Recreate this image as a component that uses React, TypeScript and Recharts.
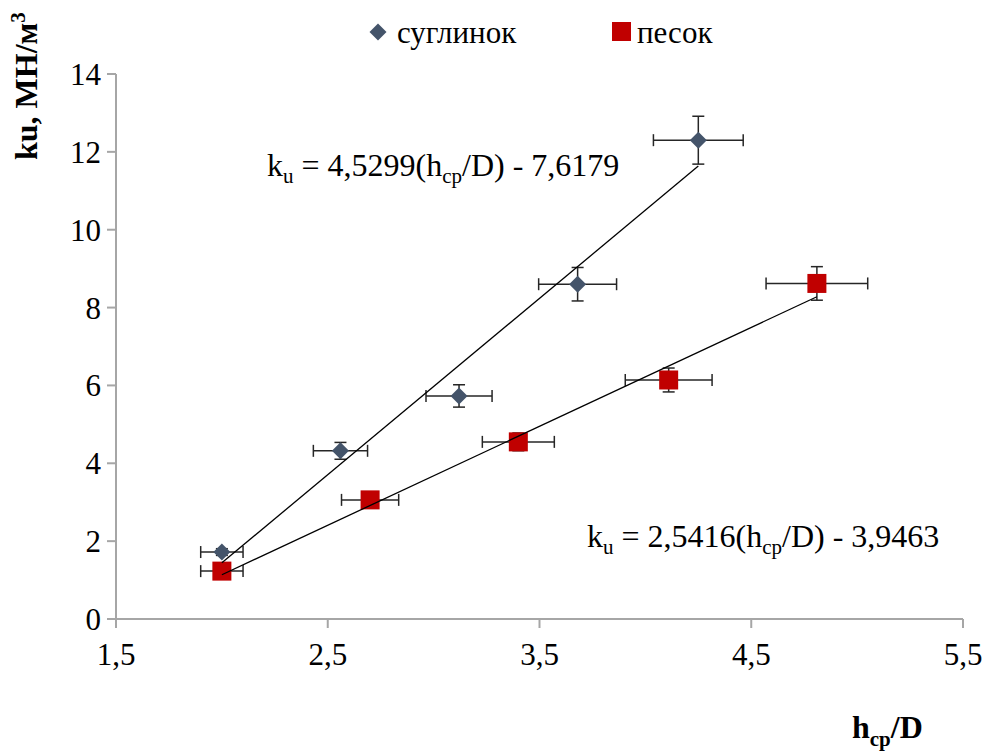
import { ScatterChart, Scatter, XAxis, YAxis, ErrorBar } from "recharts";

// суглинок (loam)
const loamX = [2.0, 2.56, 3.12, 3.68, 4.25];
const loamY = [1.72, 4.32, 5.73, 8.6, 12.3];
const loamXErr = [0.1, 0.128, 0.156, 0.184, 0.212];
const loamYErr = [0.086, 0.216, 0.287, 0.43, 0.615];

// песок (sand)
const sandX = [2.0, 2.7, 3.4, 4.11, 4.81];
const sandY = [1.23, 3.06, 4.55, 6.14, 8.62];
const sandXErr = [0.1, 0.135, 0.17, 0.205, 0.24];
const sandYErr = [0.062, 0.153, 0.228, 0.307, 0.431];

// linear trendlines from the picture
const loamFit = { slope: 4.5299, intercept: -7.6179 };
const sandFit = { slope: 2.5416, intercept: -3.9463 };

const xTicks = [1.5, 2.5, 3.5, 4.5, 5.5];
const yTicks = [0, 2, 4, 6, 8, 10, 12, 14];

const W = 975;
const H = 746;
const FONT = "Liberation Serif";
const LOAM_COLOR = "#44546A";
const SAND_COLOR = "#C00000";
const AXIS_COLOR = "#A6A6A6";

const toPoints = (xs: number[], ys: number[], ex: number[], ey: number[]) =>
  xs.map((x, i) => ({ x, y: ys[i], ex: ex[i], ey: ey[i] }));

const trend = (xs: number[], fit: { slope: number; intercept: number }) => {
  const x0 = Math.min(...xs);
  const x1 = Math.max(...xs);
  return [
    { x: x0, y: fit.slope * x0 + fit.intercept },
    { x: x1, y: fit.slope * x1 + fit.intercept },
  ];
};

const loamData = toPoints(loamX, loamY, loamXErr, loamYErr);
const sandData = toPoints(sandX, sandY, sandXErr, sandYErr);
const loamTrend = trend(loamX, loamFit);
const sandTrend = trend(sandX, sandFit);

const Diamond = (props: any) => {
  const { cx, cy } = props;
  const r = 8.5;
  return (
    <path
      d={`M${cx},${cy - r} L${cx + r},${cy} L${cx},${cy + r} L${cx - r},${cy} Z`}
      fill={LOAM_COLOR}
    />
  );
};

const Square = (props: any) => {
  const { cx, cy } = props;
  const s = 19;
  return <rect x={cx - s / 2} y={cy - s / 2} width={s} height={s} fill={SAND_COLOR} />;
};

const fmt = (v: number) => String(v).replace(".", ",");

function Equation({ x, y, a, b }: { x: number; y: number; a: string; b: string }) {
  return (
    <text x={x} y={y} fontSize={32} fill="#000">
      k
      <tspan fontSize={21} dy={7}>u</tspan>
      <tspan dy={-7}>{` = ${a}(h`}</tspan>
      <tspan fontSize={21} dy={7}>cp</tspan>
      <tspan dy={-7}>{`/D) - ${b}`}</tspan>
    </text>
  );
}

export default function App() {
  return (
    <div style={{ position: "relative", width: W, height: H, fontFamily: FONT }}>
      <ScatterChart
        width={W}
        height={H}
        margin={{ top: 66, right: 20, bottom: 85, left: 52 }}
        style={{ fontFamily: FONT }}
      >
        <XAxis
          type="number"
          dataKey="x"
          domain={[1.5, 5.5]}
          ticks={xTicks}
          tickFormatter={fmt}
          stroke={AXIS_COLOR}
          strokeWidth={2}
          tickSize={9}
          tickMargin={15}
          height={50}
          tick={{ fill: "#000", fontSize: 31, fontFamily: FONT }}
        />
        <YAxis
          type="number"
          dataKey="y"
          domain={[0, 14]}
          ticks={yTicks}
          stroke={AXIS_COLOR}
          strokeWidth={2}
          tickSize={9}
          tickMargin={6}
          width={56}
          tick={{ fill: "#000", fontSize: 31, fontFamily: FONT }}
        />
        <Scatter data={loamData} shape={<Diamond />} isAnimationActive={false}>
          <ErrorBar dataKey="ex" direction="x" width={6} stroke="#262626" strokeWidth={1.5} />
          <ErrorBar dataKey="ey" direction="y" width={6} stroke="#262626" strokeWidth={1.5} />
        </Scatter>
        <Scatter data={sandData} shape={<Square />} isAnimationActive={false}>
          <ErrorBar dataKey="ex" direction="x" width={6} stroke="#262626" strokeWidth={1.5} />
          <ErrorBar dataKey="ey" direction="y" width={6} stroke="#262626" strokeWidth={1.5} />
        </Scatter>
        <Scatter
          data={loamTrend}
          line={{ stroke: "#000", strokeWidth: 1.3 }}
          shape={() => <g />}
          isAnimationActive={false}
        />
        <Scatter
          data={sandTrend}
          line={{ stroke: "#000", strokeWidth: 1.3 }}
          shape={() => <g />}
          isAnimationActive={false}
        />
      </ScatterChart>
      <svg
        width={W}
        height={H}
        fontFamily={FONT}
        style={{ position: "absolute", left: 0, top: 0, pointerEvents: "none", overflow: "visible" }}
      >
        {/* legend */}
        <path d="M370,15.5 L378.5,24 L370,32.5 L361.5,24 Z" fill={LOAM_COLOR} />
        <text x={389} y={35} fontSize={31} fill="#000">
          суглинок
        </text>
        <rect x={604} y={14} width={19} height={19} fill={SAND_COLOR} />
        <text x={629} y={35} fontSize={31} fill="#000">
          песок
        </text>

        <Equation x={259} y={168} a={fmt(loamFit.slope)} b={fmt(-loamFit.intercept)} />
        <Equation x={579} y={539} a={fmt(sandFit.slope)} b={fmt(-sandFit.intercept)} />

        {/* axis titles */}
        <text
          x={29}
          y={152}
          transform="rotate(-90, 29, 152)"
          fontSize={32}
          fontWeight="bold"
          fill="#000"
        >
          ku, МН/м
          <tspan fontSize={21} dy={-12}>3</tspan>
        </text>
        <text x={844} y={730} fontSize={32} fontWeight="bold" fill="#000">
          h
          <tspan fontSize={21} dy={8}>cp</tspan>
          <tspan dy={-8}>/D</tspan>
        </text>
      </svg>
    </div>
  );
}
